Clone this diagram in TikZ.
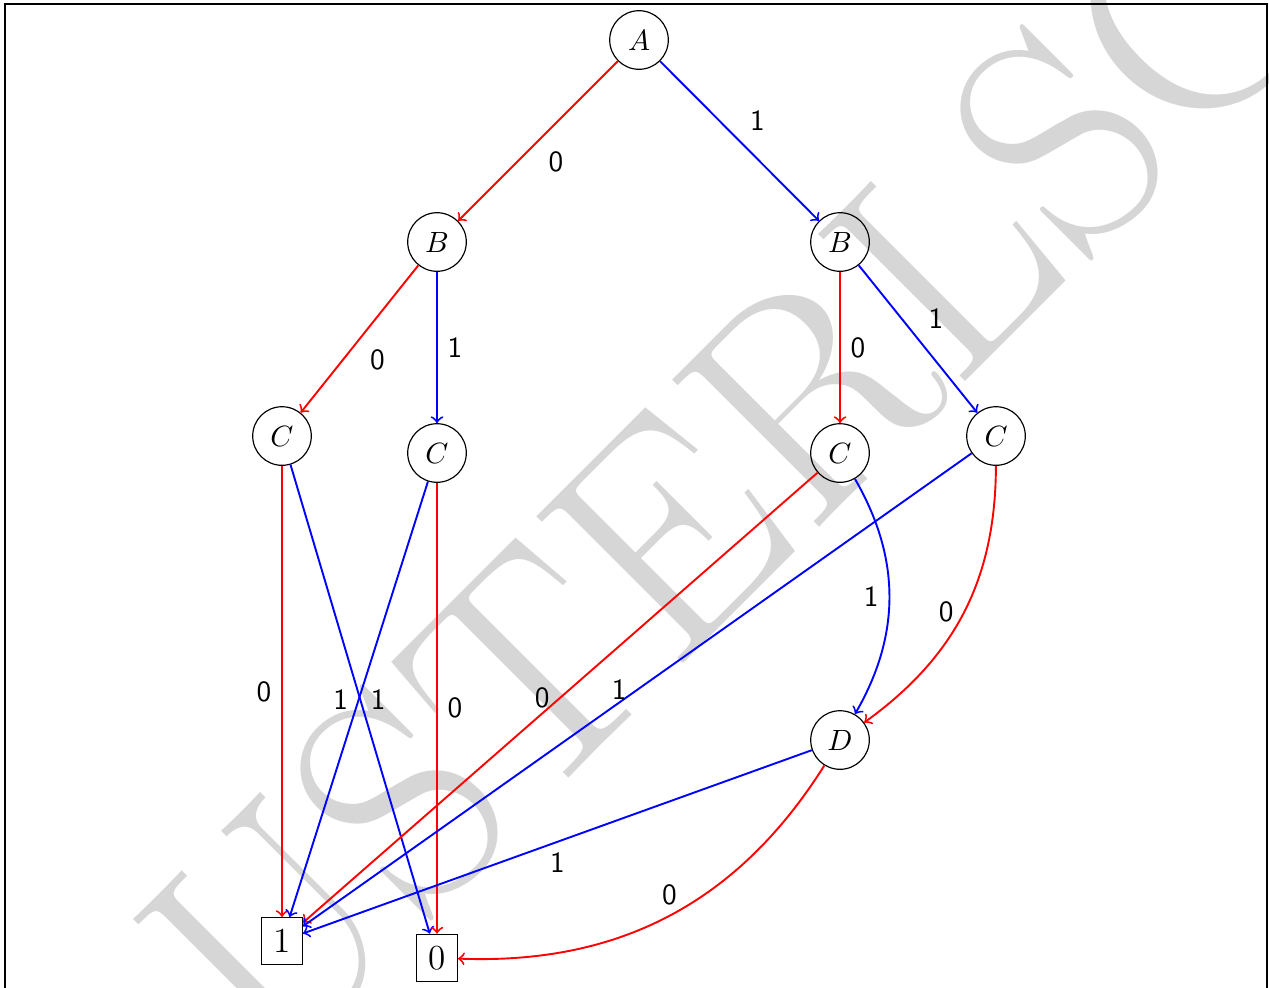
\documentclass[tikz,border=0pt]{standalone}
\usepackage{fontspec}
\definecolor{wm}{RGB}{214,214,214}
\begin{document}
\begin{tikzpicture}[x=0.3413pt,y=-0.3413pt,
  st/.style={circle,draw,minimum size=20pt,inner sep=0pt},
  term/.style={rectangle,draw,font=\large,inner sep=4pt},
  lbl/.style={font=\sffamily,midway,text=black},
  e0/.style={->,red,line width=0.65pt},
  e1/.style={->,blue,line width=0.65pt}]
\useasboundingbox (0,0) rectangle (1269,987);
\begin{scope}
\clip (0,0) rectangle (1269,987);
\node[rotate=45, anchor=base west, inner sep=0pt, text=wm, font=\fontsize{104}{120}\selectfont] (wmark) at (269,1078) {USTERLSC};
\draw[line width=0.4pt] (5,995) -- (5,4) -- (1267,4) -- (1267,995);
\end{scope}
\node[st] (A) at (639,40) {$A$};
\node[st] (B1) at (437,242) {$B$};
\node[st] (B2) at (840,242) {$B$};
\node[st] (C1) at (282,436) {$C$};
\node[st] (C2) at (437,453) {$C$};
\node[st] (C3) at (840,453) {$C$};
\node[st] (C4) at (996,436) {$C$};
\node[st] (D) at (840,740) {$D$};
\node[term] (T1) at (282,941) {1};
\node[term] (T0) at (437,958) {0};
\draw[e0] (A) -- node[lbl,below right]{0} (B1);
\draw[e1] (A) -- node[lbl,above right]{1} (B2);
\draw[e0] (B1) -- node[lbl,below right]{0} (C1);
\draw[e1] (B1) -- node[lbl,right]{1} (C2);
\draw[e0] (B2) -- node[lbl,right]{0} (C3);
\draw[e1] (B2) -- node[lbl,above right]{1} (C4);
\draw[e0] (C1) -- node[lbl,left]{0} (T1);
\draw[e1] (C1) -- node[lbl,right]{1} (T0);
\draw[e1] (C2) -- node[lbl,left]{1} (T1);
\draw[e0] (C2) -- node[lbl,right]{0} (T0);
\draw[e0] (C3) -- node[lbl,left]{0} (T1);
\draw[e1] (C3) to[bend left=30] node[lbl,left]{1} (D);
\draw[e1] (C4) -- node[lbl,left]{1} (T1);
\draw[e0] (C4) to[bend left=27] node[lbl,left]{0} (D);
\draw[e1] (D) -- node[lbl,below]{1} (T1);
\draw[e0] (D) to[bend left=30] node[lbl,above]{0} (T0);
\end{tikzpicture}
\end{document}
